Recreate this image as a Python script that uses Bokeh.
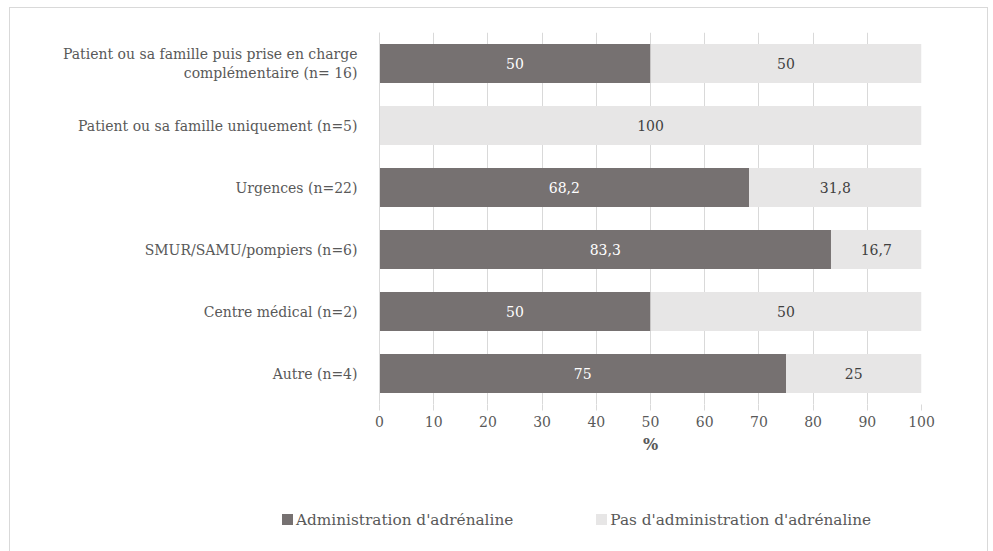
from bokeh.plotting import figure
from bokeh.layouts import column
from bokeh.models import ColumnDataSource, FactorRange, Range1d, LabelSet, Div
from bokeh.core.properties import value
from bokeh.embed import file_html
from bokeh.resources import INLINE

# Lieu de prise en charge (top to bottom)
categories = [
    "Patient ou sa famille puis prise en charge\ncomplémentaire (n= 16)",
    "Patient ou sa famille uniquement (n=5)",
    "Urgences (n=22)",
    "SMUR/SAMU/pompiers (n=6)",
    "Centre médical (n=2)",
    "Autre (n=4)",
]
adrenaline = [50, 0, 68.2, 83.3, 50, 75]
pas_adrenaline = [50, 100, 31.8, 16.7, 50, 25]
ticks = [0, 10, 20, 30, 40, 50, 60, 70, 80, 90, 100]
series_names = ["Administration d'adrénaline", "Pas d'administration d'adrénaline"]

DARK = "#767171"
LIGHT = "#E7E6E6"
TEXT = "#595959"
GRID = "#D9D9D9"
FONT = "DejaVu Serif, Liberation Serif, serif"


def fmt(v):
    s = ("%.1f" % v).rstrip("0").rstrip(".")
    return s.replace(".", ",")


src = ColumnDataSource(dict(
    cat=categories,
    a_end=adrenaline,
    b_end=[x + y for x, y in zip(adrenaline, pas_adrenaline)],
    a_mid=[x / 2 for x in adrenaline],
    b_mid=[x + y / 2 for x, y in zip(adrenaline, pas_adrenaline)],
    a_lab=[fmt(v) if v > 0 else "" for v in adrenaline],
    b_lab=[fmt(v) if v > 0 else "" for v in pas_adrenaline],
))

p = figure(
    width=977, height=457,
    y_range=FactorRange(*reversed(categories), range_padding=0),
    x_range=Range1d(0, 100),
    output_backend="svg", toolbar_location=None,
    min_border_left=369, min_border_right=66,
    min_border_top=24, min_border_bottom=61,
)
p.outline_line_color = None
p.background_fill_color = "white"
p.border_fill_color = "white"

h = 0.63
p.hbar(y="cat", left=0, right="a_end", height=h, source=src,
       fill_color=DARK, line_color=None)
p.hbar(y="cat", left="a_end", right="b_end", height=h, source=src,
       fill_color=LIGHT, line_color=None)

# Value labels
p.text(x="a_mid", y="cat", text="a_lab", source=src, text_align="center",
       text_baseline="middle", text_color="white",
       text_font=value(FONT), text_font_size="14px")
p.text(x="b_mid", y="cat", text="b_lab", source=src, text_align="center",
       text_baseline="middle", text_color="#404040",
       text_font=value(FONT), text_font_size="14px")

# Axes and grid
p.xaxis.ticker = ticks
p.xaxis.axis_label = "%"
p.xaxis.axis_label_text_font = FONT
p.xaxis.axis_label_text_font_style = "bold"
p.xaxis.axis_label_text_font_size = "16px"
p.xaxis.axis_label_text_color = TEXT
p.xaxis.axis_label_standoff = 5
p.xaxis.major_label_text_font = FONT
p.xaxis.major_label_text_font_size = "14px"
p.xaxis.major_label_text_color = TEXT
p.xaxis.axis_line_color = None
p.xaxis.major_tick_line_color = GRID
p.xaxis.major_tick_in = 0
p.xaxis.major_tick_out = 6
p.xaxis.minor_tick_line_color = None

# Two-line category name: drawn centred, line by line, beside the axis
multi = [c for c in categories if "\n" in c]
p.yaxis.major_label_overrides = {c: "" for c in multi}
p.yaxis.major_label_text_font = FONT
p.yaxis.major_label_text_font_size = "14px"
p.yaxis.major_label_text_color = TEXT
p.yaxis.major_label_standoff = 16
p.yaxis.axis_line_color = GRID
p.yaxis.major_tick_line_color = None
p.yaxis.minor_tick_line_color = None
for c in multi:
    lines = c.split("\n")
    offs = [((len(lines) - 1) / 2 - i) * 24 for i in range(len(lines))]
    for line, off in zip(lines, offs):
        p.add_layout(LabelSet(
            x="x", y="y", text="t",
            source=ColumnDataSource(dict(x=[0], y=[c], t=[line])),
            x_offset=-160, y_offset=off, text_align="center",
            text_baseline="middle", text_color=TEXT,
            text_font=value(FONT), text_font_size="14px"))

p.ygrid.grid_line_color = None
p.xgrid.grid_line_color = GRID
p.xgrid.level = "underlay"

# Legend strip under the chart
sw = "display:inline-block;width:11px;height:11px;margin-right:3px;"
legend_html = (
    f'<div style="padding-left:272px;padding-top:45px;font-family:{FONT};'
    f'font-size:15.3px;line-height:20px;color:{TEXT};white-space:nowrap">'
    f'<span style="{sw}background:{DARK}"></span>{series_names[0]}'
    f'<span style="{sw}margin-left:83px;background:{LIGHT}"></span>{series_names[1]}'
    f'</div>'
)
leg = Div(text=legend_html, width=977, height=87, margin=0)

layout = column(
    p, leg, spacing=0, margin=(7, 0, 0, 9),
    styles={"border": "1px solid #D9D9D9", "border-bottom": "none",
            "background": "white"},
)

open("out.html", "w").write(file_html(layout, INLINE))
